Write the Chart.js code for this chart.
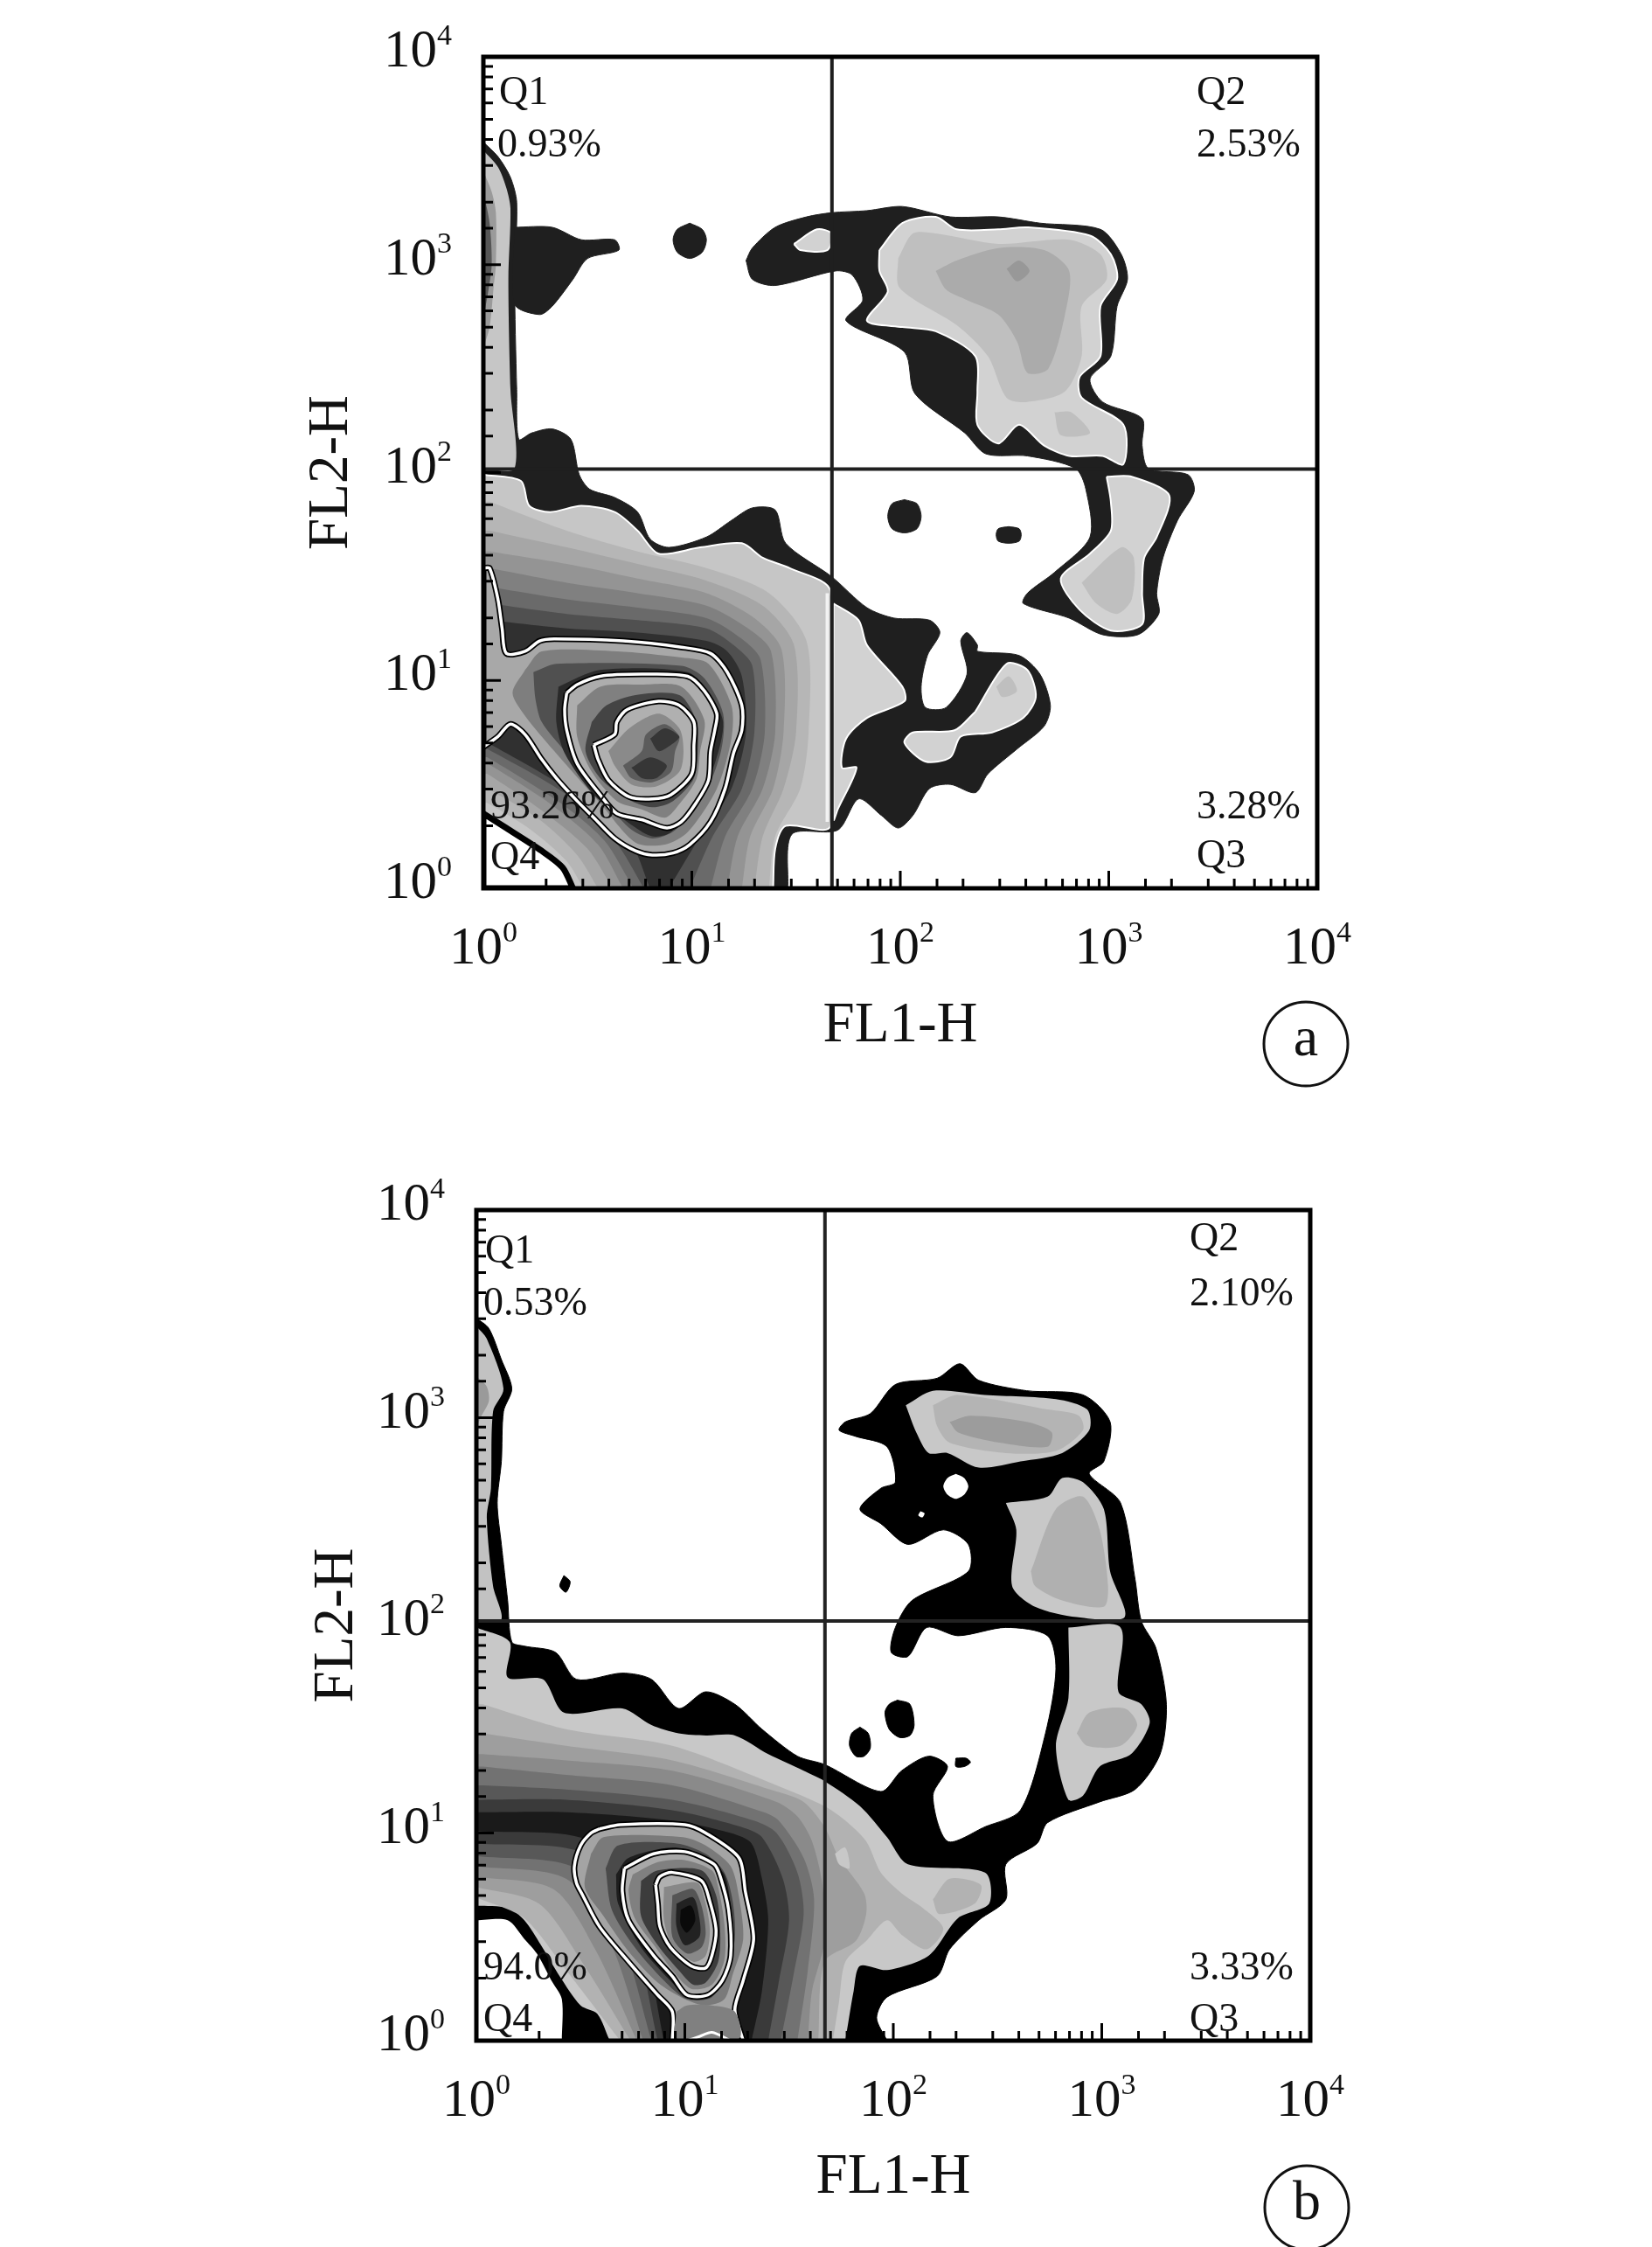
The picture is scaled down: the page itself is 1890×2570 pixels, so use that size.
<!DOCTYPE html>
<html>
<head>
<meta charset="utf-8">
<title>FL1-H / FL2-H contour plots</title>
<script src="https://cdn.jsdelivr.net/npm/chart.js@4/dist/chart.umd.min.js"></script>
<style>
  html, body { margin: 0; background: #fff; }
  canvas { position: absolute; }
  #plotA { left: 300px; top: 0; }
  #plotB { left: 292px; top: 1320px; }
</style>
</head>
<body>
<canvas id="plotA" width="1300" height="1250"></canvas>
<canvas id="plotB" width="1300" height="1250"></canvas>
<script>
// ============================
// AXES AND LABELS
// ============================
const tickBase = "10";
const tickPowers = ["0", "1", "2", "3", "4"];
const xTitle = "FL1-H";
const yTitle = "FL2-H";
const notesA = ["Q1", "0.93%", "Q2", "2.53%", "3.28%", "Q3", "93.26%", "Q4"];
const notesB = ["Q1", "0.53%", "Q2", "2.10%", "3.33%", "Q3", "94.0%", "Q4"];

// quadrant gates, in FL units
const gateA = [47, 104];
const gateB = [47, 105];

// ============================
// PANEL A contours, [log10 FL1, log10 FL2]
// ============================
const aBlackMain = [[0,3.59],[.07,3.52],[.13,3.42],[.16,3.30],[.15,2.93],[.16,2.40],[.17,2.16],[.23,2.19],[.33,2.21],[.42,2.16],[.46,1.99],[.51,1.92],[.63,1.88],[.74,1.81],[.80,1.68],[.89,1.64],[1.07,1.69],[1.19,1.77],[1.29,1.83],[1.40,1.82],[1.45,1.66],[1.67,1.50],[1.84,1.35],[1.97,1.30],[2.14,1.29],[2.19,1.23],[2.13,1.12],[2.10,.97],[2.12,.87],[2.22,.87],[2.32,1.03],[2.29,1.19],[2.32,1.23],[2.37,1.17],[2.37,1.14],[2.57,1.12],[2.67,1.03],[2.72,.88],[2.69,.78],[2.56,.67],[2.42,.55],[2.36,.46],[2.24,.50],[2.14,.48],[2.06,.35],[1.99,.29],[1.91,.35],[1.80,.43],[1.70,.28],[1.48,.26],[1.46,0],[0,0]];
const aBlackUpper = [[1.26,3.02],[1.29,3.08],[1.40,3.18],[1.55,3.23],[1.67,3.25],[1.84,3.26],[2.01,3.28],[2.24,3.23],[2.47,3.23],[2.67,3.20],[2.96,3.17],[3.06,3.05],[3.09,2.93],[3.04,2.80],[3.01,2.56],[2.91,2.45],[2.97,2.34],[3.16,2.26],[3.16,2.13],[3.19,2.02],[3.38,1.99],[3.41,1.91],[3.33,1.77],[3.26,1.59],[3.23,1.42],[3.24,1.32],[3.14,1.22],[2.97,1.22],[2.81,1.30],[2.59,1.37],[2.61,1.42],[2.74,1.52],[2.91,1.69],[2.89,1.92],[2.84,2.02],[2.61,2.08],[2.41,2.09],[2.31,2.19],[2.07,2.38],[2.02,2.58],[1.74,2.73],[1.82,2.83],[1.77,2.95],[1.69,2.97],[1.40,2.90],[1.29,2.93]];
const aBlackLeft = [[.15,3.18],[.33,3.18],[.47,3.12],[.63,3.12],[.65,3.07],[.50,3.03],[.43,2.93],[.33,2.80],[.27,2.76],[.15,2.81]];
const aDots = [
  [[.99,3.20],[1.05,3.17],[1.07,3.12],[1.05,3.06],[.99,3.03],[.93,3.06],[.91,3.12],[.93,3.17]],
  [[2.02,1.87],[2.08,1.85],[2.10,1.79],[2.08,1.73],[2.02,1.71],[1.96,1.73],[1.94,1.79],[1.96,1.85]],
  [[2.52,1.74],[2.57,1.73],[2.58,1.70],[2.57,1.67],[2.52,1.66],[2.47,1.67],[2.46,1.70],[2.47,1.73]]
];
const aCorner = [[0,.36],[.11,.29],[.28,.18],[.38,.10],[.43,0],[0,0]];
const aBox = [[1.49,.22],[1.672,.22],[1.672,0],[1.49,0]];

const aSpike1 = [[0,3.55],[.07,3.47],[.11,3.37],[.13,3.27],[.12,2.93],[.13,2.40],[.15,2.02],[0,2.02]];
const aSpike2 = [[0,3.45],[.04,3.35],[.06,3.25],[.06,3.0],[.05,2.9],[.03,2.7],[0,2.6]];
const aSpike3 = [[0,3.35],[.03,3.2],[.04,3.0],[.02,2.85],[0,2.75]];

const aBand0 = [[0,1.99],[.18,1.96],[.22,1.84],[.32,1.81],[.47,1.84],[.63,1.81],[.74,1.72],[.84,1.61],[1.04,1.64],[1.24,1.66],[1.34,1.59],[1.47,1.54],[1.665,1.43],[1.665,.30],[1.45,.30],[1.40,.19],[1.39,0],[0,0]];
const aBand1 = [[.03,1.86],[.40,1.72],[.74,1.62],[1.07,1.54],[1.37,1.42],[1.55,1.19],[1.56,.75],[1.52,.48],[1.40,.25],[1.37,0],[.48,0],[.40,.13],[.23,.28],[.02,.41],[0,.41],[0,1.86]];
const aBand2 = [[.03,1.72],[.40,1.64],[.74,1.56],[1.07,1.48],[1.34,1.36],[1.49,1.17],[1.50,.75],[1.44,.48],[1.34,.25],[1.30,0],[.55,0],[.45,.16],[.27,.33],[.02,.48],[0,.48],[0,1.72]];
const aBand3 = [[.03,1.62],[.40,1.56],[.74,1.49],[1.07,1.42],[1.30,1.30],[1.43,1.15],[1.44,.75],[1.39,.48],[1.28,.25],[1.24,0],[.62,0],[.50,.19],[.30,.36],[.02,.55],[0,.55],[0,1.62]];
const aBand4 = [[.03,1.54],[.40,1.47],[.74,1.42],[1.07,1.36],[1.27,1.25],[1.38,1.14],[1.40,.75],[1.34,.48],[1.22,.25],[1.17,0],[.67,0],[.55,.21],[.33,.40],[.02,.60],[0,.60],[0,1.54]];
const aBand5 = [[.03,1.45],[.40,1.39],[.74,1.35],[1.07,1.30],[1.24,1.20],[1.33,1.10],[1.35,.75],[1.29,.48],[1.16,.25],[1.09,0],[.72,0],[.58,.23],[.37,.41],[.02,.63],[0,.63],[0,1.45]];
const aBand6 = [[.03,1.37],[.40,1.32],[.74,1.29],[1.07,1.25],[1.20,1.17],[1.29,1.07],[1.30,.75],[1.24,.48],[1.10,.25],[.99,0],[.77,0],[.63,.23],[.40,.45],[.02,.67],[0,.67],[0,1.37]];
const aBand7 = [[.03,1.29],[.40,1.25],[.74,1.23],[1.07,1.19],[1.17,1.14],[1.24,1.02],[1.26,.75],[1.19,.48],[1.04,.25],[.89,0],[.80,0],[.70,.23],[.43,.46],[.02,.70],[0,.70],[0,1.29]];

const aRing1 = [[0,.68],[.07,.73],[.13,.79],[.20,.74],[.28,.62],[.35,.53],[.45,.42],[.53,.34],[.63,.24],[.73,.18],[.81,.16],[.91,.17],[.99,.21],[1.09,.32],[1.16,.48],[1.20,.65],[1.24,.76],[1.24,.88],[1.17,1.04],[1.09,1.13],[.95,1.16],[.67,1.19],[.34,1.20],[.27,1.19],[.20,1.14],[.11,1.13],[.09,1.25],[.07,1.39],[.03,1.54],[0,1.54]];
const aRing1a = [[.20,1.05],[.28,1.14],[.64,1.14],[.95,1.11],[1.08,1.08],[1.19,.88],[1.19,.72],[1.12,.48],[.98,.27],[.87,.21],[.73,.22],[.56,.41],[.34,.66],[.20,.83],[.14,.94]];
const aRing1b = [[.24,1.04],[.35,1.08],[.95,1.07],[1.06,1.01],[1.15,.84],[1.14,.66],[1.06,.45],[.92,.28],[.81,.24],[.70,.29],[.56,.45],[.39,.66],[.28,.80],[.25,.91]];
const aRing1c = [[.36,.97],[.56,1.05],[.98,1.04],[1.08,.94],[1.15,.80],[1.11,.60],[1.03,.43],[.90,.27],[.81,.25],[.69,.32],[.53,.45],[.39,.65],[.35,.80]];
const aRing2 = [[.40,.94],[.45,.98],[.56,1.02],[.76,1.03],[.98,1.02],[1.06,.95],[1.12,.84],[1.11,.76],[1.09,.66],[1.08,.52],[1.02,.41],[.95,.32],[.88,.29],[.76,.33],[.64,.36],[.56,.45],[.45,.60],[.40,.76],[.39,.86]];
const aRing2a = [[.45,.88],[.56,.97],[.76,.98],[.95,.97],[1.06,.81],[1.04,.66],[1.02,.52],[.92,.38],[.87,.34],[.76,.38],[.64,.42],[.52,.56],[.45,.73]];
const aRing2b = [[.52,.80],[.59,.88],[.73,.93],[.94,.93],[1.02,.81],[1.03,.69],[1.01,.53],[.91,.42],[.81,.39],[.69,.43],[.56,.53],[.49,.66]];
const aRing3 = [[.53,.69],[.63,.74],[.64,.80],[.69,.86],[.84,.90],[.94,.88],[1.01,.80],[1.01,.69],[1.00,.55],[.90,.45],[.81,.43],[.70,.44],[.60,.52],[.55,.62]];
const aRing3a = [[.60,.66],[.70,.77],[.84,.84],[.94,.77],[.96,.66],[.94,.56],[.83,.49],[.71,.50],[.63,.59]];
const aRing3b = [[.67,.59],[.76,.66],[.78,.74],[.87,.79],[.94,.73],[.92,.66],[.90,.56],[.81,.51],[.71,.53]];
const aCore1 = [[.80,.72],[.87,.77],[.94,.73],[.90,.69],[.84,.66]];
const aCore2 = [[.71,.58],[.80,.63],[.88,.59],[.83,.53],[.76,.53]];

const aTopL1 = [[1.90,3.07],[2.01,3.20],[2.17,3.23],[2.27,3.17],[2.47,3.17],[2.61,3.18],[2.91,3.14],[3.01,3.05],[3.04,2.93],[2.96,2.80],[2.96,2.56],[2.86,2.46],[2.87,2.36],[3.07,2.23],[3.07,2.04],[2.97,2.08],[2.81,2.08],[2.69,2.13],[2.57,2.23],[2.47,2.14],[2.37,2.23],[2.37,2.39],[2.36,2.56],[2.17,2.68],[2.01,2.70],[1.84,2.73],[1.94,2.87],[1.90,2.97]];
const aTopIsland = [[1.49,3.10],[1.60,3.17],[1.67,3.15],[1.65,3.07],[1.52,3.07]];
const aTopL2 = [[1.99,3.03],[2.06,3.15],[2.17,3.15],[2.47,3.10],[2.81,3.12],[2.96,3.05],[2.99,2.93],[2.87,2.80],[2.87,2.56],[2.79,2.39],[2.61,2.34],[2.51,2.36],[2.42,2.56],[2.27,2.71],[2.07,2.83],[1.99,2.90]];
const aTopL3 = [[2.17,2.97],[2.27,3.02],[2.47,3.08],[2.69,3.07],[2.81,2.97],[2.79,2.76],[2.71,2.50],[2.61,2.48],[2.56,2.63],[2.47,2.76],[2.32,2.83],[2.22,2.88]];
const aTopL4 = [[2.51,2.98],[2.57,3.02],[2.62,2.97],[2.56,2.92]];
const aTopSpot = [[2.74,2.29],[2.82,2.29],[2.91,2.19],[2.77,2.18]];
const aMidL1 = [[2.99,1.98],[3.11,1.98],[3.29,1.89],[3.23,1.69],[3.17,1.59],[3.16,1.42],[3.16,1.27],[3.01,1.24],[2.86,1.34],[2.77,1.49],[2.91,1.61],[3.01,1.72],[3.01,1.86]];
const aMidL2 = [[2.87,1.47],[3.06,1.64],[3.12,1.59],[3.11,1.39],[3.04,1.32],[2.94,1.37]];
const aLowL1 = [[2.36,.85],[2.51,1.08],[2.61,1.05],[2.65,.92],[2.59,.82],[2.44,.75],[2.29,.73],[2.24,.63],[2.12,.61],[2.02,.70],[2.06,.75],[2.26,.76]];
const aLowSpot = [[2.46,.97],[2.52,1.02],[2.56,.95],[2.49,.92]];
const aGateL1 = [[1.68,1.37],[1.80,1.29],[1.84,1.17],[2.01,.97],[2.02,.90],[1.84,.82],[1.74,.72],[1.72,.58],[1.79,.58],[1.70,.38],[1.68,.33]];
const aHalo = [[1.65,.32],[1.65,1.42]];

// ============================
// PANEL B contours, [log10 FL1, log10 FL2]
// ============================
const bBlackMain = [[0,3.48],[.06,3.43],[.12,3.28],[.17,3.14],[.13,3.03],[.12,2.79],[.10,2.59],[.12,2.39],[.15,2.12],[.17,1.92],[.23,1.90],[.38,1.87],[.48,1.74],[.70,1.77],[.84,1.74],[.97,1.60],[1.10,1.68],[1.24,1.62],[1.37,1.50],[1.54,1.37],[1.67,1.33],[1.94,1.20],[2.04,1.30],[2.17,1.37],[2.26,1.32],[2.19,1.18],[2.26,.96],[2.44,1.03],[2.61,1.11],[2.73,1.48],[2.78,1.79],[2.74,1.95],[2.54,1.99],[2.31,1.95],[2.16,1.99],[2.07,1.85],[1.99,1.87],[2.01,1.99],[2.09,2.12],[2.36,2.26],[2.36,2.39],[2.24,2.46],[2.07,2.39],[1.94,2.49],[1.84,2.56],[1.94,2.66],[2.01,2.69],[1.97,2.86],[1.82,2.91],[1.74,2.94],[1.77,2.98],[1.89,3.02],[2.01,3.16],[2.21,3.19],[2.32,3.26],[2.41,3.18],[2.64,3.13],[2.91,3.11],[3.04,2.98],[3.01,2.79],[2.94,2.73],[3.09,2.59],[3.16,2.22],[3.19,2.02],[3.26,1.89],[3.31,1.62],[3.28,1.38],[3.16,1.21],[2.99,1.15],[2.74,1.05],[2.69,.95],[2.54,.85],[2.54,.68],[2.41,.58],[2.27,.44],[2.21,.31],[1.97,.21],[1.92,.11],[1.97,0],[0,0]];
const bDots = [
  [[.42,2.24],[.45,2.21],[.43,2.16],[.40,2.19]],
  [[2.02,1.64],[2.08,1.62],[2.10,1.52],[2.08,1.47],[2.03,1.46],[1.98,1.50],[1.96,1.58],[1.98,1.62]],
  [[1.84,1.51],[1.88,1.48],[1.89,1.41],[1.86,1.37],[1.82,1.37],[1.79,1.42],[1.80,1.48]],
  [[2.30,1.36],[2.35,1.36],[2.37,1.34],[2.34,1.32],[2.30,1.32]]
];
const bHoles = [
  [[2.30,2.73],[2.34,2.71],[2.36,2.67],[2.34,2.63],[2.30,2.61],[2.26,2.63],[2.24,2.67],[2.26,2.71]],
  [[2.13,2.55],[2.15,2.54],[2.14,2.52],[2.12,2.53]]
];
const bCorner = [[0,.58],[.15,.58],[.23,.49],[.29,.42],[.36,.29],[.41,.20],[.41,0],[0,0]];

const bSpike1 = [[0,3.44],[.05,3.38],[.13,3.14],[.08,3.03],[.07,2.66],[.05,2.52],[.08,2.19],[.12,2.03],[0,2.03]];
const bSpike2 = [[0,3.2],[.05,3.15],[.06,3.08],[.02,3.0],[0,2.95]];

const bBand0 = [[0,1.99],[.16,1.92],[.15,1.75],[.32,1.74],[.42,1.58],[.70,1.60],[.84,1.52],[.97,1.48],[1.10,1.47],[1.24,1.47],[1.40,1.38],[1.57,1.30],[1.67,1.25],[1.84,1.13],[1.97,.98],[2.07,.85],[2.44,.81],[2.46,.66],[2.31,.59],[2.17,.41],[1.97,.34],[1.84,.36],[1.81,.24],[1.77,0],[.64,0],[.58,.13],[.50,.17],[.40,.31],[.31,.46],[.23,.58],[.15,.64],[0,.65]];
const bBand1 = [[.03,1.62],[.43,1.50],[.94,1.42],[1.44,1.23],[1.67,1.13],[1.77,1.06],[1.87,.96],[1.94,.81],[2.04,.71],[2.14,.64],[2.24,.54],[2.16,.44],[2.04,.51],[1.97,.58],[1.87,.48],[1.77,.38],[1.74,.19],[1.71,0],[.69,0],[.43,.34],[.23,.59],[0,.69],[0,1.62]];
const bBand2 = [[.03,1.48],[.43,1.42],[.94,1.35],[1.44,1.20],[1.57,1.15],[1.67,1.03],[1.74,.88],[1.86,.71],[1.87,.61],[1.82,.48],[1.67,.38],[1.64,0],[.74,0],[.50,.39],[.30,.66],[0,.74],[0,1.48]];
const bBand3 = [[.03,1.38],[.43,1.35],[.94,1.30],[1.44,1.15],[1.54,1.08],[1.61,.96],[1.66,.75],[1.67,.48],[1.61,.24],[1.59,0],[.77,0],[.57,.44],[.37,.73],[0,.79],[0,1.38]];
const bBand4 = [[.03,1.32],[.43,1.28],[.94,1.23],[1.38,1.10],[1.45,1.06],[1.57,.88],[1.62,.68],[1.59,.34],[1.54,0],[.80,0],[.64,.48],[.43,.78],[0,.84],[0,1.32]];
const bBand5 = [[.03,1.23],[.43,1.21],[.94,1.16],[1.33,1.06],[1.44,1.00],[1.54,.81],[1.57,.61],[1.52,.31],[1.46,0],[.84,0],[.69,.51],[.48,.83],[0,.89],[0,1.23]];
const bBand6 = [[.03,1.16],[.43,1.16],[.94,1.11],[1.27,1.03],[1.37,.98],[1.47,.78],[1.50,.58],[1.45,.28],[1.40,0],[.87,0],[.74,.56],[.52,.90],[0,.95],[0,1.16]];
const bBand7 = [[.03,1.10],[.43,1.10],[.94,1.06],[1.22,1.00],[1.32,.95],[1.37,.78],[1.40,.58],[1.37,.24],[1.32,0],[.90,0],[.77,.61],[.55,.96],[0,1.01],[0,1.10]];
const bSpot1 = [[2.19,.68],[2.27,.78],[2.42,.75],[2.39,.66],[2.22,.61]];
const bSpot2 = [[1.72,.90],[1.77,.93],[1.79,.83],[1.74,.85]];

const bRing1 = [[.59,1.02],[.69,1.04],[1.00,1.04],[1.10,1.00],[1.26,.88],[1.29,.72],[1.33,.49],[1.28,.29],[1.24,.15],[1.28,0],[.94,0],[.94,.14],[.87,.22],[.73,.38],[.59,.55],[.51,.70],[.48,.76],[.47,.84],[.50,.94],[.55,1.00]];
const bRing1a = [[.55,.90],[.61,.98],[.99,.98],[1.10,.94],[1.22,.84],[1.26,.69],[1.28,.49],[1.23,.32],[1.19,.20],[1.10,.17],[1.00,.20],[.87,.28],[.73,.43],[.61,.60],[.52,.74]];
const bRing1b = [[.62,.83],[.68,.94],[.96,.95],[1.10,.90],[1.19,.81],[1.23,.67],[1.24,.49],[1.20,.34],[1.13,.21],[1.01,.20],[.90,.29],[.76,.45],[.65,.63]];
const bRing1c = [[.67,.80],[.73,.88],[.96,.93],[1.11,.87],[1.19,.80],[1.22,.63],[1.22,.41],[1.15,.24],[1.03,.20],[.93,.29],[.79,.45],[.68,.66]];
const bPillar = [[.96,.14],[1.01,.17],[1.13,.17],[1.24,.14],[1.26,.01],[.96,.01]];
const bPillarArc = [[1.01,0],[1.07,.02],[1.13,.04],[1.22,0]];
const bRing2 = [[.71,.83],[.85,.90],[1.00,.91],[1.14,.85],[1.17,.79],[1.21,.63],[1.22,.41],[1.18,.29],[1.11,.22],[1.01,.22],[.94,.31],[.85,.41],[.73,.58],[.70,.72]];
const bRing2a = [[.75,.80],[.87,.86],[1.00,.87],[1.13,.82],[1.16,.74],[1.19,.56],[1.19,.39],[1.13,.27],[1.03,.25],[.94,.34],[.86,.45],[.76,.59],[.73,.72]];
const bRing2b = [[.79,.77],[.87,.82],[1.08,.82],[1.15,.70],[1.17,.52],[1.16,.38],[1.10,.28],[1.04,.27],[.97,.34],[.87,.46],[.79,.60]];
const bRing3 = [[.86,.75],[.88,.79],[.94,.81],[1.08,.77],[1.12,.67],[1.15,.53],[1.13,.41],[1.10,.35],[1.03,.36],[.93,.45],[.88,.55],[.87,.66]];
const bRing3a = [[.90,.74],[1.06,.76],[1.10,.66],[1.12,.53],[1.10,.41],[1.04,.38],[.94,.46],[.90,.58]];
const bRing3b = [[.94,.70],[1.04,.73],[1.08,.65],[1.10,.52],[1.08,.45],[1.01,.42],[.94,.50]];
const bRing3c = [[.96,.66],[1.04,.69],[1.07,.59],[1.07,.50],[1.00,.46],[.96,.55]];
const bRing3d = [[.98,.63],[1.03,.65],[1.05,.58],[1.01,.52],[.98,.56]];

const bTopL1 = [[2.06,3.06],[2.19,3.13],[2.44,3.11],[2.78,3.09],[2.93,3.04],[2.94,2.94],[2.81,2.83],[2.61,2.79],[2.41,2.76],[2.26,2.83],[2.17,2.83],[2.11,2.93]];
const bTopL2 = [[2.19,3.06],[2.31,3.11],[2.74,3.04],[2.89,3.01],[2.91,2.94],[2.78,2.84],[2.54,2.83],[2.27,2.88],[2.21,2.96]];
const bTopL3 = [[2.27,2.98],[2.37,3.01],[2.64,2.98],[2.76,2.93],[2.74,2.86],[2.51,2.88],[2.31,2.93]];
const bMidL1 = [[2.54,2.59],[2.74,2.62],[2.81,2.71],[2.91,2.69],[3.01,2.56],[3.04,2.26],[3.11,2.04],[2.88,2.04],[2.68,2.09],[2.57,2.19],[2.59,2.46]];
const bMidL2 = [[2.66,2.26],[2.78,2.56],[2.91,2.62],[2.99,2.46],[3.03,2.19],[3.01,2.09],[2.81,2.12],[2.68,2.19]];
const bLowL1 = [[2.84,1.99],[3.09,1.99],[3.08,1.68],[3.19,1.62],[3.23,1.53],[3.14,1.38],[2.99,1.32],[2.91,1.18],[2.84,1.16],[2.78,1.42],[2.84,1.65]];
const bLowL2 = [[2.88,1.48],[2.94,1.58],[3.11,1.60],[3.17,1.52],[3.09,1.42],[2.93,1.42]];

// ============================
// HELPERS
// ============================
const serif = "'Liberation Serif', serif";
const WHITE = "#fff";
const CURVE = 0.28;

// vertices on the frame are doubled so the spline keeps a hard corner there
const toPoints = (arr, close) => {
  const pts = [];
  arr.forEach(([u, v]) => {
    const p = { x: Math.pow(10, u), y: Math.pow(10, v) };
    pts.push(p);
    if (u === 0 || v === 0) pts.push({ ...p });
  });
  if (close) pts.push({ ...pts[0] });
  return pts;
};

// filled contour, optional outline
const shape = (arr, fill, stroke, width) => ({
  data: toPoints(arr, true),
  showLine: true,
  fill: "shape",
  backgroundColor: fill,
  borderColor: stroke || "rgba(0,0,0,0)",
  borderWidth: width || 0,
  borderJoinStyle: "round",
  pointRadius: 0,
  tension: CURVE
});

const line = (arr, stroke, width, close) => ({
  data: toPoints(arr, close),
  showLine: true,
  fill: false,
  borderColor: stroke,
  borderWidth: width,
  borderJoinStyle: "round",
  pointRadius: 0,
  tension: CURVE
});

// black edge with a white core, the way the density rings look
const ring = (arr, fill) => [
  shape(arr, fill, "#000", 7),
  line(arr, WHITE, 3.5, true)
];

const gateLines = (gate, color) => [
  { data: [{ x: gate[0], y: 1 }, { x: gate[0], y: 10000 }], showLine: true, borderColor: color, borderWidth: 4, pointRadius: 0 },
  { data: [{ x: 1, y: gate[1] }, { x: 10000, y: gate[1] }], showLine: true, borderColor: color, borderWidth: 4, pointRadius: 0 }
];

const isDecade = v => Math.abs(Math.log10(v) - Math.round(Math.log10(v))) < 1e-6;

// "10" with a raised power; right edge or centre sits at (x, y baseline)
function drawPower(ctx, power, x, y, align) {
  ctx.font = "61px " + serif;
  const baseW = ctx.measureText(tickBase).width;
  ctx.font = "34px " + serif;
  const supW = ctx.measureText(power).width;
  const total = baseW + supW;
  const left = align === "right" ? x - total : x - total / 2;
  ctx.textAlign = "left";
  ctx.textBaseline = "alphabetic";
  ctx.font = "61px " + serif;
  ctx.fillText(tickBase, left, y);
  ctx.font = "34px " + serif;
  ctx.fillText(power, left + baseW, y - 25);
}

// inward ticks, frame, tick labels, corner notes and the panel letter
const panelDecor = {
  id: "panelDecor",
  afterDraw(chart, args, opts) {
    const { ctx, chartArea: area, scales } = chart;
    ctx.save();
    ctx.strokeStyle = opts.ink;
    ctx.lineWidth = 3;
    ctx.beginPath();
    scales.x.ticks.forEach(t => {
      const px = scales.x.getPixelForValue(t.value);
      const len = isDecade(t.value) ? 20 : 11;
      ctx.moveTo(px, area.bottom);
      ctx.lineTo(px, area.bottom - len);
    });
    scales.y.ticks.forEach(t => {
      const py = scales.y.getPixelForValue(t.value);
      const len = isDecade(t.value) ? 20 : 11;
      ctx.moveTo(area.left, py);
      ctx.lineTo(area.left + len, py);
    });
    ctx.stroke();

    ctx.lineWidth = 5;
    ctx.strokeRect(area.left, area.top, area.right - area.left, area.bottom - area.top);

    ctx.fillStyle = "#111";
    scales.x.ticks.filter(t => isDecade(t.value)).forEach(t => {
      const power = tickPowers[Math.round(Math.log10(t.value))];
      drawPower(ctx, power, scales.x.getPixelForValue(t.value), area.bottom + 86, "center");
    });
    scales.y.ticks.filter(t => isDecade(t.value)).forEach(t => {
      const power = tickPowers[Math.round(Math.log10(t.value))];
      drawPower(ctx, power, area.left - 36, scales.y.getPixelForValue(t.value) + 11, "right");
    });

    ctx.font = "46px " + serif;
    ctx.textAlign = "left";
    ctx.textBaseline = "alphabetic";
    opts.notes.forEach((txt, i) => {
      const [dx, dy] = opts.noteSpots[i];
      ctx.fillText(txt, area.left + dx, area.top + dy);
    });

    ctx.beginPath();
    ctx.lineWidth = 3;
    ctx.strokeStyle = "#111";
    ctx.arc(opts.badge[0], opts.badge[1], 48, 0, Math.PI * 2);
    ctx.stroke();
    ctx.font = "64px " + serif;
    ctx.textAlign = "center";
    ctx.textBaseline = "middle";
    ctx.fillText(opts.letter, opts.badge[0], opts.badge[1] - 4);
    ctx.restore();
  }
};

function buildPanel(id, layers, cfg) {
  const datasets = layers.map((d, i) => ({ ...d, order: layers.length - i }));
  const axisBase = {
    type: "logarithmic",
    min: 1,
    max: 10000,
    grid: { display: false, drawTicks: false },
    border: { display: false }
  };

  new Chart(document.getElementById(id), {
    type: "scatter",
    data: { datasets },
    options: {
      responsive: false,
      animation: false,
      devicePixelRatio: 1,
      events: [],
      layout: { padding: { top: cfg.top, right: 93, left: 0, bottom: 0 } },
      plugins: {
        legend: { display: false },
        tooltip: { enabled: false },
        panelDecor: cfg.decor
      },
      scales: {
        x: {
          ...axisBase,
          afterFit: s => { s.height = 1250 - cfg.bottom; },
          ticks: { display: false, autoSkip: false },
          title: { display: true, text: xTitle, color: "#111", font: { family: serif, size: 65 }, padding: { top: 0, bottom: cfg.titleBottom } }
        },
        y: {
          ...axisBase,
          afterFit: s => { s.width = 253; },
          ticks: { display: false, autoSkip: false },
          title: { display: true, text: yTitle, color: "#111", font: { family: serif, size: 65 }, padding: { top: cfg.titleLeft, bottom: 0 } }
        }
      }
    },
    plugins: [panelDecor]
  });
}

// ============================
// PANEL A
// ============================
const INK_A = "#1f1f1f";
const layersA = [
  shape(aBlackMain, INK_A, INK_A, 1),
  shape(aBlackUpper, INK_A, INK_A, 1),
  shape(aBlackLeft, INK_A, INK_A, 1),
  ...aDots.map(d => shape(d, INK_A, INK_A, 1)),
  shape(aSpike1, "#c6c6c6"),
  shape(aSpike2, "#9a9a9a"),
  shape(aSpike3, "#555"),
  shape(aBand0, "#c6c6c6", WHITE, 2),
  shape(aBand1, "#b6b6b6"),
  shape(aBand2, "#a6a6a6"),
  shape(aBand3, "#949494"),
  shape(aBand4, "#808080"),
  shape(aBand5, "#6a6a6a"),
  shape(aBand6, "#505050"),
  shape(aBand7, "#303030"),
  shape(aCorner, WHITE, "#000", 7),
  shape(aBox, WHITE),
  ...ring(aRing1, "#a8a8a8"),
  shape(aRing1a, "#7e7e7e"),
  shape(aRing1b, "#505050"),
  shape(aRing1c, "#2a2a2a"),
  ...ring(aRing2, "#adadad"),
  shape(aRing2a, "#808080"),
  shape(aRing2b, "#444"),
  ...ring(aRing3, "#b0b0b0"),
  shape(aRing3a, "#8a8a8a"),
  shape(aRing3b, "#5c5c5c"),
  shape(aCore1, "#363636"),
  shape(aCore2, "#363636"),
  shape(aTopL1, "#d2d2d2", WHITE, 2),
  shape(aTopIsland, "#d2d2d2", WHITE, 2),
  shape(aTopL2, "#bfbfbf"),
  shape(aTopL3, "#ababab"),
  shape(aTopL4, "#989898"),
  shape(aTopSpot, "#bfbfbf"),
  shape(aMidL1, "#d2d2d2", WHITE, 2),
  shape(aMidL2, "#bfbfbf"),
  shape(aLowL1, "#d2d2d2", WHITE, 2),
  shape(aLowSpot, "#bfbfbf"),
  shape(aGateL1, "#d2d2d2", WHITE, 2),
  line(aHalo, "#f2f2f2", 4, false),
  ...gateLines(gateA, INK_A)
];

buildPanel("plotA", layersA, {
  top: 65,
  bottom: 1016,
  titleBottom: 37,
  titleLeft: 41,
  decor: {
    ink: "#000",
    notes: notesA,
    noteSpots: [[18, 54], [16, 114], [816, 54], [816, 114], [816, 871], [816, 927], [8, 871], [8, 929]],
    badge: [1194, 1194],
    letter: "a"
  }
});

// ============================
// PANEL B
// ============================
const layersB = [
  shape(bBlackMain, "#000", "#000", 1),
  ...bDots.map(d => shape(d, "#000", "#000", 1)),
  ...bHoles.map(d => shape(d, WHITE)),
  shape(bSpike1, "#c2c2c2"),
  shape(bSpike2, "#9a9a9a"),
  shape(bBand0, "#c8c8c8"),
  shape(bBand1, "#b2b2b2"),
  shape(bBand2, "#9e9e9e"),
  shape(bBand3, "#8a8a8a"),
  shape(bBand4, "#727272"),
  shape(bBand5, "#585858"),
  shape(bBand6, "#3a3a3a"),
  shape(bBand7, "#1a1a1a"),
  shape(bSpot1, "#b2b2b2"),
  shape(bSpot2, "#c8c8c8"),
  shape(bCorner, WHITE),
  ...ring(bRing1, "#a4a4a4"),
  shape(bRing1a, "#7a7a7a"),
  shape(bRing1b, "#4a4a4a"),
  shape(bRing1c, "#1e1e1e"),
  shape(bPillar, "#808080"),
  ...ring(bRing2, "#a8a8a8"),
  shape(bRing2a, "#808080"),
  shape(bRing2b, "#3c3c3c"),
  ...ring(bRing3, "#b0b0b0"),
  shape(bRing3a, "#888"),
  shape(bRing3b, "#555"),
  shape(bRing3c, "#222"),
  shape(bRing3d, "#0a0a0a"),
  line(bPillarArc, WHITE, 3, false),
  shape(bTopL1, "#c8c8c8"),
  shape(bTopL2, "#b4b4b4"),
  shape(bTopL3, "#9c9c9c"),
  shape(bMidL1, "#c8c8c8"),
  shape(bMidL2, "#b0b0b0"),
  shape(bLowL1, "#c8c8c8"),
  shape(bLowL2, "#b0b0b0"),
  ...gateLines(gateB, "#222")
];

buildPanel("plotB", layersB, {
  top: 64,
  bottom: 1014,
  titleBottom: 40,
  titleLeft: 55,
  decor: {
    ink: "#000",
    notes: notesB,
    noteSpots: [[10, 60], [8, 120], [816, 46], [816, 109], [816, 880], [816, 939], [8, 880], [8, 939]],
    badge: [1203, 1205],
    letter: "b"
  }
});
</script>
</body>
</html>
